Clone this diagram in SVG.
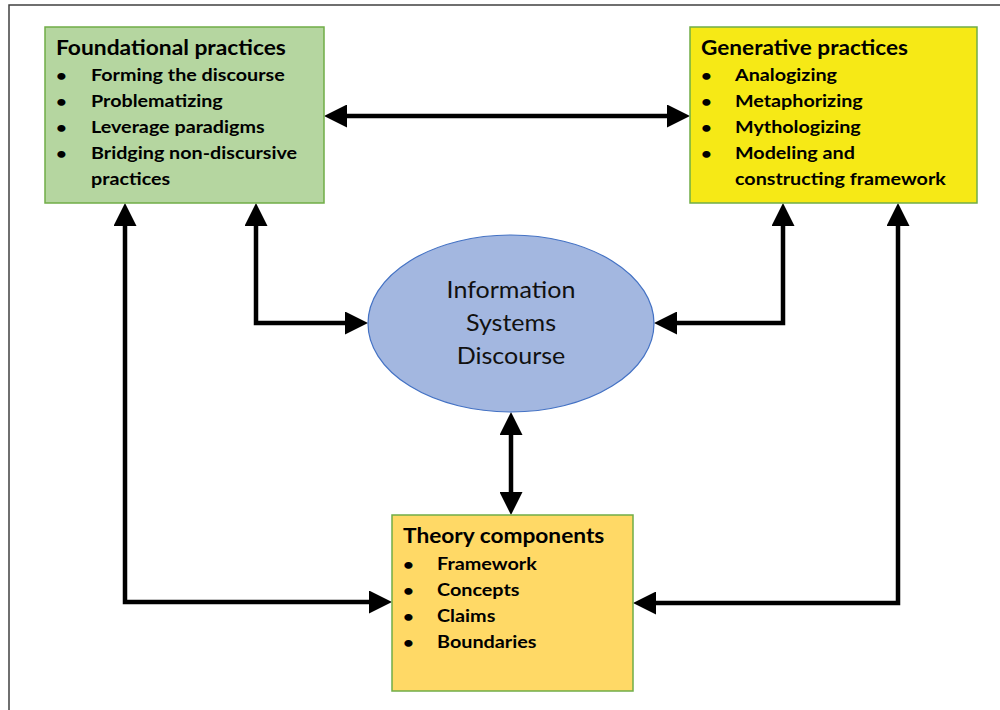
<svg xmlns="http://www.w3.org/2000/svg" width="1000" height="710" viewBox="0 0 1000 710">
  <style>
    .box { stroke: #70AD47; stroke-width: 1.5; }
    .title { font-family: Lato, "Liberation Sans", sans-serif; font-weight: bold; font-size: 20px; fill: #000; }
    .item { font-family: Lato, "Liberation Sans", sans-serif; font-weight: bold; font-size: 17px; fill: #000; }
    .dot { font-size: 16px; }
    .center { font-family: Lato, "Liberation Sans", sans-serif; font-size: 23px; fill: #111; text-anchor: middle; }
    .link { fill: none; stroke: #000; stroke-width: 4.5; stroke-linejoin: miter; stroke-linecap: butt; marker-start: url(#head); marker-end: url(#head); }
  </style>
  <defs>
    <marker id="head" markerUnits="userSpaceOnUse" markerWidth="23" markerHeight="23" refX="12" refY="11.5" orient="auto-start-reverse" viewBox="0 0 23 23">
      <path d="M0,0 L23,11.5 L0,23 Z" fill="#000"/>
    </marker>
  </defs>

  <rect width="1000" height="710" fill="#fff"/>
  <!-- page frame -->
  <path d="M9,710 V5 H1000" fill="none" stroke="#404040" stroke-width="1.5"/>

  <g id="connectors">
    <path class="link" d="M335,116 H679"/>
    <path class="link" d="M256,214 V323 H357"/>
    <path class="link" d="M783,214 V323 H665"/>
    <path class="link" d="M125,214 V602 H381"/>
    <path class="link" d="M898,214 V603 H644"/>
    <path class="link" d="M511,423 V504"/>
  </g>

  <g id="foundational">
    <rect class="box" x="45" y="27" width="279" height="176" fill="#B5D6A0"/>
    <text class="title" x="56" y="55" transform="translate(56,0) scale(1.14,1) translate(-56,0)">Foundational practices</text>
    <g class="item" transform="translate(56,0) scale(1.16,1) translate(-56,0)">
      <text class="dot" x="56" y="81">•</text><text x="86.2" y="81">Forming the discourse</text>
      <text class="dot" x="56" y="107">•</text><text x="86.2" y="107">Problematizing</text>
      <text class="dot" x="56" y="133">•</text><text x="86.2" y="133">Leverage paradigms</text>
      <text class="dot" x="56" y="159">•</text><text x="86.2" y="159">Bridging non-discursive</text>
      <text x="86.2" y="185">practices</text>
    </g>
  </g>

  <g id="generative">
    <rect class="box" x="690" y="27" width="287" height="176" fill="#F6E916"/>
    <text class="title" x="701" y="55" transform="translate(701,0) scale(1.13,1) translate(-701,0)">Generative practices</text>
    <g class="item" transform="translate(701,0) scale(1.16,1) translate(-701,0)">
      <text class="dot" x="701" y="81">•</text><text x="730.3" y="81">Analogizing</text>
      <text class="dot" x="701" y="107">•</text><text x="730.3" y="107">Metaphorizing</text>
      <text class="dot" x="701" y="133">•</text><text x="730.3" y="133">Mythologizing</text>
      <text class="dot" x="701" y="159">•</text><text x="730.3" y="159">Modeling and</text>
      <text x="730.3" y="185">constructing framework</text>
    </g>
  </g>

  <g id="discourse">
    <ellipse cx="511" cy="323.5" rx="143" ry="88.5" fill="#A3B7E0" stroke="#4472C4" stroke-width="1.2"/>
    <g transform="translate(511,0) scale(1.09,1) translate(-511,0)">
      <text class="center" x="511" y="298">Information</text>
      <text class="center" x="511" y="331">Systems</text>
      <text class="center" x="511" y="364">Discourse</text>
    </g>
  </g>

  <g id="theory">
    <rect class="box" x="392" y="515" width="241" height="176" fill="#FFD966"/>
    <text class="title" x="403" y="543" transform="translate(403,0) scale(1.135,1) translate(-403,0)">Theory components</text>
    <g class="item" transform="translate(403,0) scale(1.165,1) translate(-403,0)">
      <text class="dot" x="403" y="570">•</text><text x="432.2" y="570">Framework</text>
      <text class="dot" x="403" y="596">•</text><text x="432.2" y="596">Concepts</text>
      <text class="dot" x="403" y="622">•</text><text x="432.2" y="622">Claims</text>
      <text class="dot" x="403" y="648">•</text><text x="432.2" y="648">Boundaries</text>
    </g>
  </g>
</svg>
